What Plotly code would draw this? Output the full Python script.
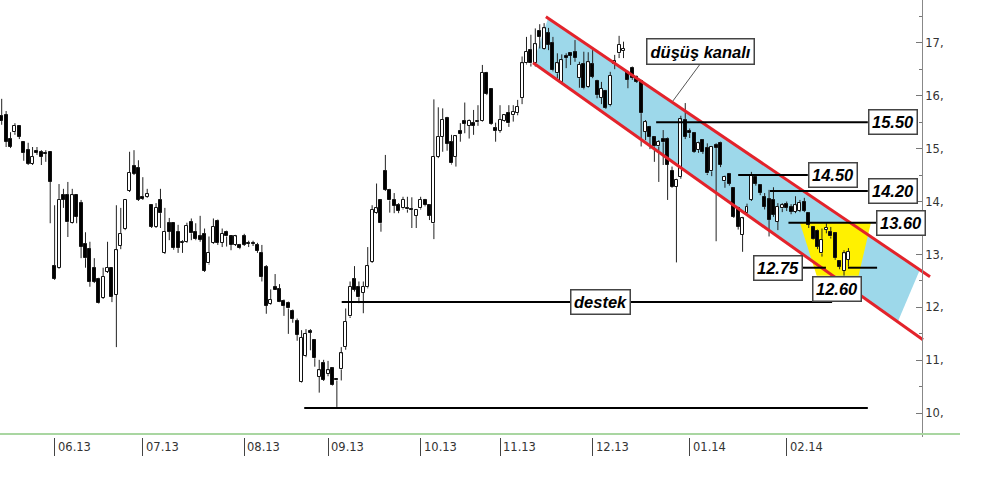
import plotly.graph_objects as go

# ---------------------------------------------------------------------------
# Daily OHLC, June 2013 - February 2014 (one row per trading day)
# ---------------------------------------------------------------------------
opens = [15.62, 15.64, 15.18, 15.31, 15.43, 15.13, 14.97, 14.71, 14.95, 14.94,
         14.92, 14.94, 12.78, 12.75, 14.12, 14.12, 13.59, 14.12, 13.97, 13.20,
         13.10, 12.75, 12.54, 12.18, 12.67, 12.75, 12.24, 13.16, 13.48, 14.20,
         14.67, 14.63, 14.09, 14.09, 13.93, 13.52, 14.03, 13.03, 13.59, 13.59,
         13.43, 13.22, 13.24, 13.62, 13.43, 13.34, 13.39, 12.83, 13.22, 13.64,
         13.22, 13.43, 13.34, 13.18, 13.18, 13.35, 13.22, 13.22, 13.18, 13.03,
         12.76, 12.07, 12.38, 12.34, 12.13, 12.09, 11.94, 11.75, 10.60, 11.08,
         11.55, 11.38, 10.69, 10.95, 10.74, 10.85, 10.64, 10.83, 11.25, 11.83,
         12.53, 12.39, 12.28, 12.38, 12.86, 13.79, 14.02, 14.58, 14.22, 14.03,
         13.93, 13.87, 13.87, 13.85, 13.73, 13.87, 14.03, 13.93, 13.59, 14.84,
         15.22, 15.57, 15.13, 14.85, 15.34, 15.53, 15.43, 15.48, 15.50, 15.53,
         16.43, 16.12, 15.38, 15.34, 15.53, 15.67, 15.63, 15.67, 15.96, 16.61,
         16.86, 16.61, 17.22, 16.89, 17.18, 16.99, 16.42, 16.26, 16.75, 16.80,
         16.82, 16.33, 16.59, 16.17, 16.59, 16.28, 15.96, 16.09, 15.82, 16.60,
         16.80, 16.84, 16.45, 16.53, 16.36, 16.28, 15.32, 15.41, 15.21, 15.04,
         15.18, 15.19, 14.58, 14.28, 14.47, 15.54, 15.34, 15.29, 14.97, 15.16,
         15.01, 14.57, 15.07, 15.10, 14.38, 14.52, 14.25, 13.87, 13.37, 13.78,
         14.03, 14.47, 14.31, 14.09, 14.04, 14.03, 13.62, 13.87, 13.95, 13.89,
         13.81, 13.83, 14.00, 13.78, 13.51, 13.45, 13.02, 13.46, 13.43, 13.40,
         12.87, 12.69, 12.90]
highs = [15.94, 15.71, 15.31, 15.48, 15.43, 15.13, 15.11, 15.03, 15.03, 14.97,
         14.97, 14.94, 13.93, 14.33, 14.24, 14.37, 14.24, 14.12, 14.03, 13.42,
         13.24, 12.93, 12.56, 12.75, 13.24, 12.75, 13.93, 13.88, 14.03, 14.94,
         14.97, 14.78, 14.46, 14.24, 13.93, 13.97, 14.24, 13.88, 13.69, 13.59,
         13.56, 13.27, 13.60, 13.68, 13.59, 13.73, 13.49, 13.34, 13.68, 13.66,
         13.49, 13.45, 13.35, 13.37, 13.20, 13.39, 13.26, 13.26, 13.22, 13.18,
         12.80, 12.34, 12.63, 12.44, 12.15, 12.11, 11.96, 11.79, 11.57, 11.59,
         11.59, 11.40, 11.01, 11.01, 10.99, 10.87, 10.65, 11.25, 11.98, 12.49,
         12.78, 12.49, 12.49, 13.14, 13.93, 14.34, 14.04, 14.88, 14.24, 14.16,
         13.97, 14.09, 14.09, 14.08, 13.86, 14.09, 14.05, 13.95, 15.93, 15.78,
         15.76, 15.60, 15.26, 15.25, 15.48, 15.87, 15.55, 15.73, 15.82, 16.58,
         16.45, 16.14, 15.49, 15.82, 15.65, 15.82, 15.82, 15.92, 16.74, 17.11,
         17.15, 17.27, 17.35, 17.37, 17.28, 17.11, 16.80, 16.78, 16.80, 16.82,
         17.05, 16.64, 16.83, 16.82, 16.86, 16.30, 16.26, 16.11, 16.45, 16.77,
         17.13, 17.02, 16.47, 16.55, 16.38, 16.30, 15.54, 15.43, 15.23, 15.16,
         15.35, 15.21, 14.66, 14.43, 15.62, 15.86, 15.38, 15.31, 15.13, 15.18,
         15.10, 15.05, 15.10, 15.13, 14.49, 14.54, 14.27, 13.90, 13.71, 13.96,
         14.56, 14.49, 14.33, 14.16, 14.22, 14.27, 13.97, 13.97, 14.00, 13.95,
         14.10, 14.03, 14.07, 13.80, 13.53, 13.47, 13.49, 13.59, 13.52, 13.42,
         12.89, 13.08, 13.12]
lows = [15.45, 15.03, 15.01, 15.26, 15.18, 14.77, 14.69, 14.69, 14.88, 14.69,
        14.75, 13.59, 12.52, 12.73, 13.88, 13.33, 13.58, 13.59, 12.93, 12.75,
        12.39, 12.46, 12.07, 12.16, 12.65, 12.10, 11.25, 13.10, 13.46, 14.18,
        14.50, 14.01, 14.03, 14.07, 13.50, 13.50, 13.50, 13.01, 13.27, 13.09,
        13.03, 13.03, 13.22, 13.27, 13.27, 13.24, 12.67, 12.81, 13.20, 13.18,
        13.14, 13.15, 13.08, 13.16, 13.10, 13.16, 13.14, 13.16, 13.03, 12.49,
        11.88, 12.05, 12.33, 12.10, 11.84, 11.50, 11.71, 11.37, 10.58, 11.06,
        11.19, 10.88, 10.39, 10.61, 10.70, 10.52, 10.12, 10.62, 11.20, 11.80,
        12.30, 12.08, 11.89, 12.36, 12.84, 13.77, 13.43, 14.20, 13.79, 13.78,
        13.78, 13.85, 13.79, 13.50, 13.50, 13.85, 13.91, 13.65, 13.29, 14.82,
        14.94, 14.96, 14.70, 14.66, 15.13, 15.29, 15.19, 15.26, 15.43, 15.51,
        16.01, 15.45, 15.13, 15.30, 15.51, 15.41, 15.51, 15.63, 15.84, 16.59,
        16.55, 16.55, 16.89, 16.87, 16.86, 16.46, 16.33, 16.24, 16.52, 16.58,
        16.64, 16.15, 16.12, 16.15, 16.33, 15.95, 15.84, 15.75, 15.80, 16.50,
        16.71, 16.71, 16.14, 16.30, 16.24, 15.04, 15.16, 14.99, 14.75, 14.37,
        14.69, 14.03, 14.26, 12.85, 14.43, 15.18, 15.20, 14.92, 14.92, 14.90,
        14.50, 14.48, 13.25, 14.65, 14.26, 14.30, 13.69, 13.47, 13.05, 13.74,
        14.01, 14.30, 14.12, 13.85, 13.34, 13.71, 13.46, 13.80, 13.82, 13.76,
        13.78, 13.80, 13.80, 13.50, 13.28, 13.10, 12.96, 13.40, 13.30, 12.90,
        12.72, 12.60, 12.77]
closes = [15.52, 15.13, 15.03, 15.43, 15.22, 14.92, 14.71, 14.84, 14.92, 14.84,
          14.90, 14.37, 12.54, 14.03, 14.03, 13.61, 14.12, 13.71, 13.14, 12.93,
          12.48, 12.48, 12.08, 12.58, 12.75, 12.20, 13.08, 13.39, 14.03, 14.54,
          14.52, 14.03, 14.05, 14.14, 13.52, 13.88, 13.78, 13.43, 13.43, 13.12,
          13.12, 13.24, 13.54, 13.40, 13.29, 13.28, 12.69, 13.03, 13.52, 13.22,
          13.39, 13.34, 13.18, 13.34, 13.12, 13.18, 13.20, 13.20, 13.07, 12.58,
          12.03, 12.14, 12.33, 12.11, 12.03, 11.98, 11.78, 11.48, 11.43, 11.50,
          11.52, 11.04, 10.81, 10.63, 10.81, 10.53, 10.62, 11.13, 11.73, 12.39,
          12.33, 12.19, 12.39, 12.78, 13.84, 13.87, 13.59, 14.22, 14.02, 13.92,
          13.83, 14.03, 13.85, 13.84, 13.84, 14.03, 13.93, 13.73, 14.85, 15.22,
          15.54, 15.09, 14.72, 15.23, 15.28, 15.47, 15.53, 15.43, 15.51, 16.43,
          16.03, 15.47, 15.34, 15.54, 15.63, 15.48, 15.70, 15.79, 16.61, 16.83,
          16.61, 16.97, 17.11, 17.27, 16.96, 16.48, 16.61, 16.67, 16.71, 16.75,
          16.71, 16.58, 16.14, 16.63, 16.36, 16.01, 16.13, 15.77, 16.38, 16.66,
          16.96, 16.89, 16.30, 16.33, 16.26, 15.67, 15.50, 15.22, 15.04, 15.13,
          15.12, 14.69, 14.28, 14.41, 15.55, 15.22, 15.29, 14.94, 15.10, 14.94,
          14.53, 15.03, 15.01, 14.69, 14.47, 14.34, 13.71, 13.52, 13.68, 13.90,
          14.50, 14.34, 14.16, 13.90, 13.65, 13.75, 13.90, 13.93, 13.88, 13.81,
          13.93, 13.97, 13.83, 13.56, 13.30, 13.15, 13.27, 13.50, 13.34, 12.93,
          12.77, 13.02, 13.05]

# First trading day of each month (row index) and its label
month_idx = [12, 32, 55, 74, 95, 113, 134, 156, 178]
month_labels = ["06.13", "07.13", "08.13", "09.13", "10.13", "11.13", "12.13", "01.14", "02.14"]

# Price axis ticks
price_ticks = [10, 11, 12, 13, 14, 15, 16, 17]
price_tick_labels = ["10,", "11,", "12,", "13,", "14,", "15,", "16,", "17,"]
price_minor_ticks = [9.5, 10.5, 11.5, 12.5, 13.5, 14.5, 15.5, 16.5, 17.5]

# Descending channel: (day index, price) end points of both boundaries
channel_top_x = [123.4, 210.5]
channel_top_y = [17.49, 12.58]
channel_bot_x = [120.5, 208.9]
channel_bot_y = [16.62, 11.39]
channel_fill_top_span = [123.9, 208.2]
channel_fill_bot_span = [120.5, 203.2]

# Resistance / target levels: (price, [start day, end day])
level_values = [15.50, 14.50, 14.20, 13.60]
level_spans = [[148.4, 196.4], [167.0, 182.8], [174.2, 196.4], [178.4, 198.3]]
level_1275 = 12.75
level_1275_spans = [[181.6, 186.9], [191.9, 198.5]]

# Support lines
support_value = 12.10
support_span = [77.1, 188.3]
floor_value = 10.10
floor_span = [68.6, 196.4]

# Cup zone between 13.60 and 12.60
cup_top = 13.60
cup_top_span = [181.0, 197.1]
cup_bottom = 12.60
cup_bottom_span = [184.8, 194.3]

# Label anchors
channel_label_pos = (158.4, 16.84)
channel_pointer_x = [158.4, 152.2]
channel_pointer_y = [16.60, 15.90]
support_label_pos = (135.7, 12.10)
label_1260_x = 189.4

BLUE = "#9dd8ea"
YELLOW = "#fff100"
RED = "#e3232b"
LABEL_FONT = dict(family="Liberation Sans, Arial, sans-serif", size=16.5, color="#000")


def line_at(xs, ys, x):
    return ys[0] + (ys[1] - ys[0]) * (x - xs[0]) / (xs[1] - xs[0])


n = len(opens)
idx = list(range(n))

fig = go.Figure()

# --- candle bodies -------------------------------------------------------
up_x, up_base, up_h = [], [], []
dn_x, dn_base, dn_h = [], [], []
wick_x, wick_y = [], []
for i in idx:
    o, h, l, c = opens[i], highs[i], lows[i], closes[i]
    top, bot = max(o, c), min(o, c)
    body = max(top - bot, 0.02)
    if c >= o:
        up_x.append(i); up_base.append(bot); up_h.append(body)
    else:
        dn_x.append(i); dn_base.append(bot); dn_h.append(body)
    if h > top:
        wick_x += [i, i, None]; wick_y += [h, top, None]
    if l < bot:
        wick_x += [i, i, None]; wick_y += [bot, l, None]

fig.add_trace(go.Bar(x=up_x, y=up_h, base=up_base, width=0.68,
                     marker=dict(color="white", line=dict(color="#111", width=1)),
                     showlegend=False, hoverinfo="skip"))
fig.add_trace(go.Bar(x=dn_x, y=dn_h, base=dn_base, width=0.68,
                     marker=dict(color="black", line=dict(color="#111", width=1)),
                     showlegend=False, hoverinfo="skip"))
fig.add_trace(go.Scatter(x=wick_x, y=wick_y, mode="lines",
                         line=dict(color="#222", width=1),
                         showlegend=False, hoverinfo="skip"))

# --- channel boundaries ---------------------------------------------------
for xs, ys in ((channel_top_x, channel_top_y), (channel_bot_x, channel_bot_y)):
    fig.add_trace(go.Scatter(x=xs, y=ys, mode="lines",
                             line=dict(color=RED, width=3),
                             showlegend=False, hoverinfo="skip"))

# --- horizontal levels ----------------------------------------------------
def hline(value, span, width=2):
    fig.add_trace(go.Scatter(x=span, y=[value, value], mode="lines",
                             line=dict(color="black", width=width),
                             showlegend=False, hoverinfo="skip"))


for v, sp in zip(level_values, level_spans):
    hline(v, sp)
for sp in level_1275_spans:
    hline(level_1275, sp)
hline(support_value, support_span)
hline(floor_value, floor_span)

# pointer from the channel label
fig.add_trace(go.Scatter(x=channel_pointer_x, y=channel_pointer_y, mode="lines",
                         line=dict(color="#555", width=1),
                         showlegend=False, hoverinfo="skip"))

# --- filled zones (under the candles) -------------------------------------
a, b = channel_fill_top_span
c0, d = channel_fill_bot_span
chan_path = "M {} {} L {} {} L {} {} L {} {} Z".format(
    a, line_at(channel_top_x, channel_top_y, a),
    b, line_at(channel_top_x, channel_top_y, b),
    d, line_at(channel_bot_x, channel_bot_y, d),
    c0, line_at(channel_bot_x, channel_bot_y, c0))
cup_path = "M {} {} L {} {} L {} {} L {} {} Z".format(
    cup_top_span[0], cup_top, cup_top_span[1], cup_top,
    cup_bottom_span[1], cup_bottom, cup_bottom_span[0], cup_bottom)

shapes = [
    dict(type="path", path=chan_path, xref="x", yref="y", layer="below",
         fillcolor=BLUE, line=dict(width=0)),
    dict(type="path", path=cup_path, xref="x", yref="y", layer="below",
         fillcolor=YELLOW, line=dict(width=0)),
    # green baseline under the plot
    dict(type="line", xref="paper", yref="paper", x0=0, x1=1,
         y0=3 / 437, y1=3 / 437, line=dict(color="#a9d6a1", width=2)),
]

# --- boxed labels ---------------------------------------------------------
def box_label(text, x, y, xanchor="left", yanchor="middle", pad=2.5):
    return dict(x=x, y=y, xref="x", yref="y", text="<b><i>" + text + "</i></b>",
                showarrow=False, xanchor=xanchor, yanchor=yanchor,
                font=LABEL_FONT, bgcolor="white", bordercolor="#444",
                borderwidth=1.5, borderpad=pad)


annotations = []
for v, sp in zip(level_values, level_spans):
    annotations.append(box_label("{:.2f}".format(v), sp[1], v))
annotations.append(box_label("{:.2f}".format(level_1275), level_1275_spans[0][0],
                             level_1275, xanchor="right"))
annotations.append(box_label("{:.2f}".format(cup_bottom), label_1260_x, cup_bottom,
                             xanchor="center", yanchor="top"))
annotations.append(box_label("düşüş kanalı", channel_label_pos[0], channel_label_pos[1],
                             xanchor="center", pad=3))
annotations.append(box_label("destek", support_label_pos[0], support_label_pos[1],
                             xanchor="center"))

# month labels, left-aligned next to their tick
for mi, lab in zip(month_idx, month_labels):
    annotations.append(dict(x=mi, y=0, xref="x", yref="paper", text=lab,
                            showarrow=False, xanchor="left", yanchor="middle",
                            xshift=1, yshift=-10,
                            font=dict(family="DejaVu Sans, Verdana, sans-serif",
                                      size=11.5, color="#333")))

fig.update_layout(
    width=1000, height=490,
    margin=dict(l=0, r=40, t=0, b=53),
    paper_bgcolor="white", plot_bgcolor="white",
    barmode="overlay", bargap=0,
    showlegend=False,
    shapes=shapes,
    annotations=annotations,
    xaxis=dict(range=[-0.3855, 217.3], showgrid=False, zeroline=False,
               showline=False, tickmode="array", tickvals=month_idx,
               showticklabels=False, ticks="outside", ticklen=18,
               tickwidth=1, tickcolor="#444", fixedrange=True),
    yaxis=dict(range=[9.552, 17.807], side="right", anchor="free",
               position=922 / 960, showgrid=False, zeroline=False,
               showline=True, linecolor="#888", linewidth=1,
               tickmode="array", tickvals=price_ticks, ticktext=price_tick_labels,
               ticks="inside", ticklen=6, tickcolor="#777",
               minor=dict(tickmode="array", tickvals=price_minor_ticks,
                          ticks="inside", ticklen=3, tickcolor="#777"),
               tickfont=dict(family="DejaVu Sans, Verdana, sans-serif",
                             size=11.5, color="#333"),
               fixedrange=True),
)

fig.write_html("out.html")
